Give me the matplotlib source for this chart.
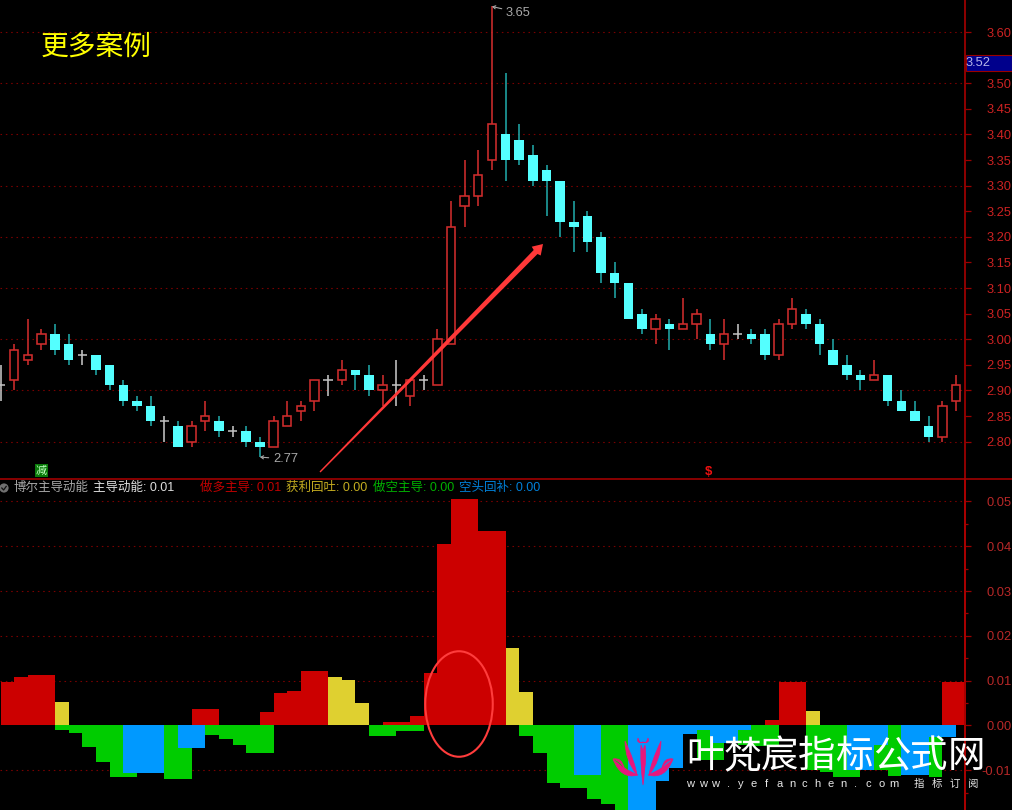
import matplotlib
matplotlib.use("Agg")
import matplotlib.pyplot as plt
from matplotlib.patches import Ellipse, Polygon, Rectangle, Circle, PathPatch
from matplotlib.path import Path

FONTS = ['Liberation Sans', 'Noto Sans CJK SC']
CJK = ['Noto Sans CJK SC', 'DejaVu Sans']

opens = [2.91,2.92,2.96,2.99,3.01,2.99,2.97,2.97,2.95,2.91,
         2.88,2.87,2.84,2.83,2.80,2.84,2.84,2.82,2.82,2.80,
         2.79,2.83,2.86,2.88,2.92,2.92,2.94,2.93,2.90,2.91,
         2.89,2.92,2.91,2.99,3.26,3.28,3.35,3.40,3.39,3.36,
         3.33,3.31,3.23,3.24,3.20,3.13,3.11,3.05,3.02,3.03,
         3.02,3.03,3.01,2.99,3.01,3.01,3.01,2.97,3.03,3.05,
         3.03,2.98,2.95,2.93,2.92,2.93,2.88,2.86,2.83,2.81,2.88]
closes = [2.91,2.98,2.97,3.01,2.98,2.96,2.97,2.94,2.91,2.88,
          2.87,2.84,2.84,2.79,2.83,2.85,2.82,2.82,2.80,2.79,
          2.84,2.85,2.87,2.92,2.92,2.94,2.93,2.90,2.91,2.91,
          2.92,2.92,3.00,3.22,3.28,3.32,3.42,3.35,3.35,3.31,
          3.31,3.23,3.22,3.19,3.13,3.11,3.04,3.02,3.04,3.02,
          3.03,3.05,2.99,3.01,3.01,3.00,2.97,3.03,3.06,3.03,
          2.99,2.95,2.93,2.92,2.93,2.88,2.86,2.84,2.81,2.87,2.91]
highs = [2.95,2.99,3.04,3.02,3.03,3.01,2.98,2.97,2.95,2.92,
         2.89,2.89,2.85,2.84,2.84,2.88,2.85,2.83,2.83,2.81,
         2.85,2.88,2.88,2.92,2.93,2.96,2.94,2.95,2.93,2.96,
         2.92,2.93,3.02,3.27,3.35,3.37,3.65,3.52,3.42,3.38,
         3.34,3.31,3.27,3.25,3.21,3.15,3.11,3.06,3.05,3.04,
         3.08,3.06,3.04,3.04,3.03,3.02,3.02,3.04,3.08,3.06,
         3.04,3.00,2.97,2.94,2.96,2.93,2.90,2.88,2.85,2.88,2.93]
lows = [2.88,2.90,2.95,2.98,2.97,2.95,2.95,2.93,2.90,2.87,
        2.86,2.83,2.80,2.79,2.79,2.82,2.81,2.81,2.79,2.77,
        2.79,2.83,2.84,2.86,2.89,2.91,2.90,2.89,2.87,2.87,
        2.87,2.90,2.91,2.99,3.22,3.26,3.33,3.31,3.34,3.30,
        3.24,3.20,3.17,3.17,3.11,3.08,3.04,3.01,2.99,2.98,
        3.02,3.00,2.98,2.96,3.00,2.99,2.96,2.96,3.02,3.02,
        2.97,2.95,2.92,2.90,2.92,2.87,2.86,2.84,2.80,2.80,2.86]

bull_lead = [.0096,.0108,.0113,.0113,0,0,0,0,0,0,
             0,0,0,0,.0036,.0036,0,0,0,.0030,
             .0073,.0078,.0122,.0122,0,0,0,0,.0008,.0008,
             .0022,.0117,.0405,.0506,.0506,.0434,.0434,0,0,0,
             0,0,0,0,0,0,0,0,0,0,
             0,0,0,0,0,0,.0012,.0096,.0096,0,
             0,0,0,0,0,0,0,0,0,.0096,.0096]
profit_take = [0,0,0,0,.0052,0,0,0,0,0,
               0,0,0,0,0,0,0,0,0,0,
               0,0,0,0,.0108,.0102,.0051,0,0,0,
               0,0,0,0,0,0,0,.0173,.0075,0,
               0,0,0,0,0,0,0,0,0,0,
               0,0,0,0,0,0,0,0,0,.0033,
               0,0,0,0,0,0,0,0,0,0,0]
bear_lead = [0,0,0,0,-.0009,-.0017,-.0047,-.0082,-.0114,-.0114,
             0,0,-.0119,-.0119,0,-.0022,-.0031,-.0043,-.0061,-.0061,
             0,0,0,0,0,0,0,-.0023,-.0023,-.0012,
             -.0012,0,0,0,0,0,0,0,-.0024,-.0061,
             -.0129,-.0140,-.0140,-.0163,-.0175,-.0205,0,0,0,0,
             0,-.0077,-.0077,0,-.0044,-.0046,-.0046,0,0,-.0099,
             -.0103,-.0114,-.0114,0,-.0099,-.0113,0,0,-.0114,0,0]
short_cover = [0,0,0,0,0,0,0,0,0,-.0105,
               -.0105,-.0105,0,-.0050,-.0050,0,0,0,0,0,
               0,0,0,0,0,0,0,0,0,0,
               0,0,0,0,0,0,0,0,0,0,
               0,0,-.0110,-.0110,0,0,-.0215,-.0215,-.0124,-.0094,
               -.0019,-.0009,-.0039,-.0039,-.0009,0,0,0,0,0,
               0,0,-.0099,-.0099,-.0043,0,-.0111,-.0111,-.0026,-.0026,0]

price_ticks = [2.80,2.85,2.90,2.95,3.00,3.05,3.10,3.15,3.20,3.25,3.30,3.35,3.40,3.45,3.50,3.60]
price_grid = [2.80,2.90,3.00,3.10,3.20,3.30,3.40,3.50,3.60]
lower_ticks = [-0.01,0.00,0.01,0.02,0.03,0.04,0.05]
lower_minor = [-0.015,-0.005,0.005,0.015,0.025,0.035,0.045]

BG = '#000000'
AXC = '#9a0000'
GRID = '#7a0000'
W, H = 1012, 810
fig = plt.figure(figsize=((W+0.01)/100, (H+0.01)/100), dpi=100, facecolor=BG)

def box(x0, y0, x1, y1):
    return [x0/W, 1-y1/H, (x1-x0)/W, (y1-y0)/H]

ax1 = fig.add_axes(box(0, 0, 964.5, 479), facecolor=BG)
ax2 = fig.add_axes(box(0, 479, 964.5, 810), facecolor=BG)
n = len(opens)
xlim = (-0.5/13.65, (964.5-0.5)/13.65)
for a in (ax1, ax2):
    a.set_xlim(*xlim)
    a.set_xticks([])
    a.yaxis.tick_right()
    for s in ('left', 'top', 'bottom'):
        a.spines[s].set_visible(False)
    a.spines['right'].set_color(AXC)
    a.spines['right'].set_linewidth(1.3)
ax1.set_ylim(3-(479-339.3)/512, 3+339.3/512)
ax2.set_ylim(-(810-725.5)/4480, (725.5-479)/4480)

# grid
for g in price_grid:
    ax1.axhline(g, color=GRID, lw=0.8, ls=(0, (1.4, 3.4)), zorder=0)
for g in lower_ticks:
    if g != 0:
        ax2.axhline(g, color=GRID, lw=0.8, ls=(0, (1.4, 3.4)), zorder=0)

# ticks
ax1.set_yticks(price_ticks)
ax1.set_yticklabels([f'{t:.2f}' for t in price_ticks], family=FONTS, fontsize=9.3, color='#cc2222', ha='right')
ax1.tick_params(axis='y', colors=AXC, labelcolor='#cc2222', length=4.3, width=0.9, pad=29.5)
ax2.set_yticks(lower_ticks)
ax2.set_yticklabels([f'{t:.2f}' if t >= 0 else '-0.01' for t in lower_ticks], family=FONTS, fontsize=9.3, ha='right')
ax2.set_yticks(lower_minor, minor=True)
ax2.tick_params(axis='y', which='major', colors=AXC, labelcolor='#b82828', length=4.3, width=0.9, pad=29.5)
ax2.tick_params(axis='y', which='minor', colors=AXC, length=2, width=0.9)

# candles
RED, CYAN, CYW, WHT = '#d02c2c', '#54ffff', '#20a8a8', '#c4c4c4'
BW = 0.62
for i in range(n):
    o, c, h, l = opens[i], closes[i], highs[i], lows[i]
    top, bot = max(o, c), min(o, c)
    if c > o:
        ax1.vlines(i, top, h, color=RED, lw=1.15, zorder=3)
        ax1.vlines(i, l, bot, color=RED, lw=1.15, zorder=3)
        ax1.bar(i, top-bot, BW, bottom=bot, facecolor=BG, edgecolor=RED, lw=1.15, zorder=4)
    elif c < o:
        ax1.vlines(i, l, h, color=CYW, lw=1.15, zorder=3)
        ax1.bar(i, top-bot, BW+0.07, bottom=bot, facecolor=CYAN, edgecolor='none', lw=0, zorder=4)
    else:
        ax1.vlines(i, l, h, color=WHT, lw=1.15, zorder=3)
        ax1.hlines(o, i-0.34, i+0.34, color=WHT, lw=1.1, zorder=3)

# value labels for extremes
ihi = highs.index(max(highs))
ilo = lows.index(min(lows))
ax1.annotate(f'{max(highs):.2f}', xy=(ihi, max(highs)), xytext=(14, -6), textcoords='offset pixels',
             color='#a8a8a8', fontsize=9.3, family=FONTS, va='center', zorder=6,
             arrowprops=dict(arrowstyle='->,head_length=0.2,head_width=0.12', color='#a8a8a8', lw=0.8, shrinkA=1, shrinkB=0))
ax1.annotate(f'{min(lows):.2f}', xy=(ilo, min(lows)), xytext=(13, -2), textcoords='offset pixels',
             color='#a8a8a8', fontsize=9.3, family=FONTS, va='center', zorder=6,
             arrowprops=dict(arrowstyle='->,head_length=0.2,head_width=0.12', color='#a8a8a8', lw=0.8, shrinkA=1, shrinkB=0))

# histogram
xs = list(range(n))
for vals, col in ((bull_lead, '#cc0000'), (profit_take, '#dfd030'), (bear_lead, '#00cc00'), (short_cover, '#0099ff')):
    ax2.bar(xs, vals, width=1.0, align='edge', color=col, edgecolor='none', lw=0, zorder=3, antialiased=False)

# overlay in pixel coordinates
ov = fig.add_axes([0, 0, 1, 1], facecolor='none')
ov.set_xlim(0, W)
ov.set_ylim(H, 0)
ov.axis('off')
ov.plot([0, W], [479, 479], color='#a00000', lw=1.2, solid_capstyle='butt', zorder=2)
ov.plot([964.5, 964.5], [479, 810], color='#a80000', lw=1.4, solid_capstyle='butt', zorder=2)

ov.text(41, 47, '更多案例', color='#ffff00', fontsize=20, family=CJK, ha='left', va='center')

# price tag
ov.add_patch(Rectangle((965.5, 55), 46.5, 16, facecolor='#00008c', edgecolor='#9a0000', lw=0.8, zorder=5))
ov.text(966, 63, '3.52', color='#b4b4e6', fontsize=9.3, family=FONTS, ha='left', va='center', zorder=6)

# signal marks
ov.add_patch(Rectangle((35, 464), 13, 13, facecolor='#0a7a0a', edgecolor='none', zorder=5))
ov.text(41.5, 470.5, '减', color='#c0ffc0', fontsize=8, family=CJK, ha='center', va='center', zorder=6)
ov.text(708.5, 471.5, '$', color='#ee1111', fontsize=9.5, family=FONTS, fontweight='bold',
        ha='center', va='center', parse_math=False, zorder=6)

# legend row
ov.add_patch(Circle((4, 488), 4.6, facecolor='#707070', edgecolor='none', zorder=5))
ov.plot([1.8, 3.6, 6.2], [488, 490, 486.4], color='#111111', lw=0.9, zorder=6)
legend = [(13, '博尔主导动能', '#a8a8a8'),
          (93, '主导动能: 0.01', '#dedede'),
          (200, '做多主导: 0.01', '#c00000'),
          (286, '获利回吐: 0.00', '#c4ac20'),
          (373, '做空主导: 0.00', '#00b000'),
          (459, '空头回补: 0.00', '#0080d8')]
for x, s, col in legend:
    ov.text(x, 488, s, color=col, fontsize=9, family=FONTS, ha='left', va='center', zorder=6)

# hand-drawn annotations
ov.add_patch(Polygon([(319.5, 471.5), (320.5, 472.5), (537.5, 254), (540.7, 255.5), (543, 244),
                      (531.7, 246.7), (533.7, 250)], closed=True, facecolor='#ff3838', edgecolor='none', zorder=7))
ov.add_patch(Ellipse((459, 704), 67.5, 105.5, facecolor='none', edgecolor='#ff3c3c', lw=1.5, zorder=7))

# logo
PINK = '#e8167c'
def crescent(p0, c1, p1, c2):
    verts = [p0, c1, p1, c2, p0, p0]
    codes = [Path.MOVETO, Path.CURVE3, Path.CURVE3, Path.CURVE3, Path.CURVE3, Path.CLOSEPOLY]
    return PathPatch(Path(verts, codes), facecolor=PINK, edgecolor=PINK, lw=0.5, zorder=8)
cx = 643
for sgn in (-1, 1):
    ov.add_patch(crescent((cx+sgn*18, 741), (cx+sgn*8, 762), (cx+sgn*6, 775), (cx+sgn*18, 760)))
    ov.add_patch(crescent((cx+sgn*30, 759), (cx+sgn*22, 780), (cx+sgn*5, 775), (cx+sgn*20, 769)))
    ov.add_patch(crescent((cx+sgn*30, 759), (cx+sgn*21, 757), (cx+sgn*19, 768), (cx+sgn*23, 761)))
    ov.add_patch(crescent((cx, 742), (cx+sgn*7, 744), (cx+sgn*5, 738), (cx+sgn*3, 745)))
ov.add_patch(crescent((cx-2, 745), (cx+4, 760), (cx, 785), (cx-3, 762)))
ov.add_patch(crescent((cx+2, 745), (cx-4, 758), (cx+0.5, 775), (cx+4, 760)))

# watermark
for i, ch in enumerate('叶梵宸指标公式网'):
    ov.text(705 + 37.3*i, 756.5, ch, color='#ffffff', fontsize=27, family=CJK, ha='center', va='center', zorder=9)
for i, ch in enumerate('www.yefanchen.com'):
    ov.text(690 + 12.75*i, 783.5, ch, color='#e8e8e8', fontsize=8, family=FONTS, ha='center', va='center', zorder=9)
for i, ch in enumerate('指标订阅'):
    ov.text(919 + 17.7*i, 783.5, ch, color='#e8e8e8', fontsize=7.5, family=CJK, ha='center', va='center', zorder=9)

fig.savefig('out.png', dpi=100, facecolor=BG)
